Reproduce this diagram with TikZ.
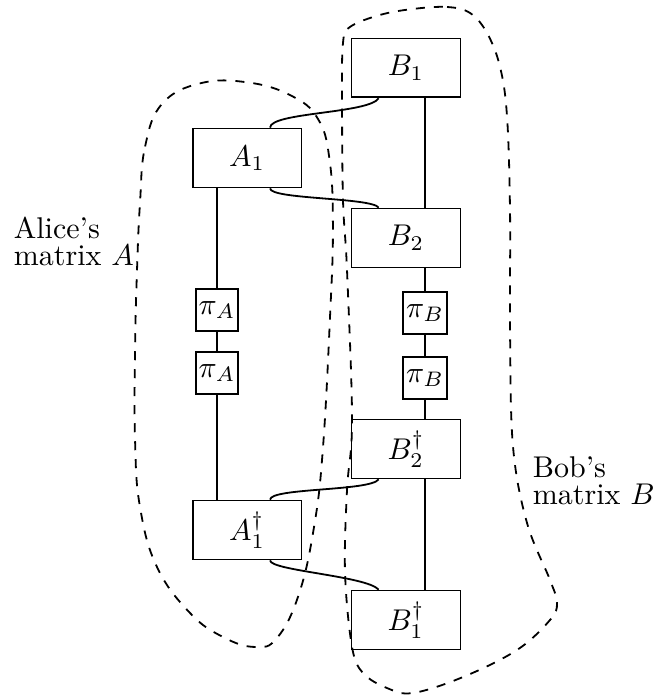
\documentclass[tikz,border=0pt]{standalone}
\usepackage{amsmath}
\usepackage{amssymb}
\usepackage{tikz}
\usetikzlibrary{calc}
\usetikzlibrary{positioning}
\tikzset{mbox/.style = {draw, rectangle, minimum width=1.275cm, minimum height=0.69cm},
         pbox/.style = {draw, rectangle, minimum size=0.5cm, inner sep=1pt},
         blob/.style = {dashed, line join=round}}

\begin{document}
\begin{tikzpicture}[semithick]
    \useasboundingbox (0, 0) rectangle (7.673, 8.165);

    \node [mbox] (B1) at (4.756, 7.369) {$B_1$};
    \node [mbox] (A1) at (2.894, 6.314) {$A_1$};
    \node [mbox] (B2) at (4.756, 5.377) {$B_2$};
    \node [pbox] (piA1) at (2.542, 4.534) {$\pi_A$};
    \node [pbox] (piA2) at (2.542, 3.796) {$\pi_A$};
    \node [pbox] (piB1) at (4.979, 4.499) {$\pi_B$};
    \node [pbox] (piB2) at (4.979, 3.737) {$\pi_B$};
    \node [mbox] (B2d) at (4.756, 2.905) {$B_2^\dagger$};
    \node [mbox] (A1d) at (2.894, 1.956) {$A_1^\dagger$};
    \node [mbox] (B1d) at (4.756, 0.902) {$B_1^\dagger$};

    % Alice's wire
    \draw (A1.south -| piA1) -- (piA1.north);
    \draw (piA1) -- (piA2);
    \draw (piA2.south) -- (A1d.north -| piA2);

    % Bob's wire
    \draw (B1.south -| piB1) -- (B2.north -| piB1);
    \draw (B2.south -| piB1) -- (piB1.north);
    \draw (piB1) -- (piB2);
    \draw (piB2.south) -- (B2d.north -| piB2);
    \draw (B2d.south -| piB2) -- (B1d.north -| piB2);

    % shared wires
    \draw ($(B1.south)+(-0.32,0)$) .. controls +(-0.12,-0.18) and +(0,0.18) .. ($(A1.north)+(0.27,0)$);
    \draw ($(A1.south)+(0.27,0)$) .. controls +(0,-0.13) and +(-0.08,0.12) .. ($(B2.north)+(-0.32,0)$);
    \draw ($(B2d.south)+(-0.32,0)$) .. controls +(-0.1,-0.14) and +(0,0.14) .. ($(A1d.north)+(0.27,0)$);
    \draw ($(A1d.south)+(0.27,0)$) .. controls +(0,-0.12) and +(-0.14,0.16) .. ($(B1d.north)+(-0.32,0)$);

    % the two matrices
    \draw [blob] plot [smooth cycle, tension=0.7] coordinates {(1.640, 5.787) (1.700, 6.450) (1.900, 6.950) (2.350, 7.190) (2.900, 7.200) (3.400, 7.050) (3.720, 6.780) (3.860, 6.300) (3.900, 5.500) (3.866, 4.452) (3.784, 2.929) (3.680, 2.000) (3.500, 1.200) (3.245, 0.691) (2.987, 0.586) (2.612, 0.703) (2.226, 0.984) (1.839, 1.523) (1.640, 2.226) (1.582, 3.011) (1.582, 4.065) (1.605, 5.000)};
    \draw [blob] plot [smooth cycle, tension=0.6] coordinates {(4.838, 8.060) (5.237, 8.083) (5.506, 8.013) (5.705, 7.779) (5.858, 7.380) (5.940, 6.795) (5.975, 5.670) (5.975, 4.264) (6.010, 2.929) (6.174, 2.038) (6.443, 1.371) (6.525, 1.101) (6.443, 0.902) (6.057, 0.551) (5.424, 0.234) (4.838, 0.047) (4.534, 0.105) (4.253, 0.281) (4.124, 0.586) (4.042, 1.453) (4.065, 2.425) (4.124, 3.245) (4.065, 5.002) (4.018, 5.822) (4.007, 6.994) (4.018, 7.662) (4.100, 7.849) (4.452, 7.990)};

    \node [align=left, anchor=west, inner sep=0pt] (alice) at (0.152, 5.342) {Alice's\\[-3pt]matrix $A$};
    \node [align=left, anchor=west, inner sep=0pt] (bob) at (6.232, 2.530) {Bob's\\[-3pt]matrix $B$};
  \end{tikzpicture}
\end{document}
